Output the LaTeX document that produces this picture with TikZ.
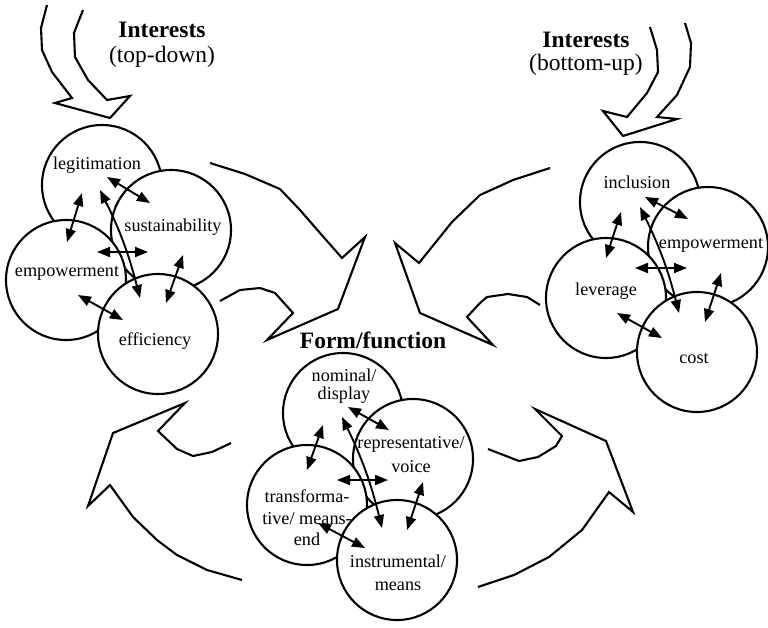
\documentclass[tikz,border=0pt]{standalone}
\usepackage{fontspec}
\setmainfont{Liberation Serif}
\usetikzlibrary{arrows.meta}
\begin{document}
\begin{tikzpicture}[x=1pt,y=-1pt,
  circ/.style={circle, draw, line width=2.1pt, fill=white, minimum size=120pt, inner sep=0pt},
  lbl/.style={font=\fontsize{18.2}{21.5}\selectfont, align=center, inner sep=0pt},
  headtxt/.style={font=\fontsize{23.5}{25}\selectfont, align=center, inner sep=0pt},
  dbl/.style={{Triangle[length=13pt,width=10pt]}-{Triangle[length=13pt,width=10pt]}, line width=1.9pt},
  bigarrow/.style={line width=2.1pt, line join=miter}
]
\useasboundingbox (0,0) rectangle (768,627);

% ---------- big outline arrows ----------
\draw[bigarrow] (47,5) -- (41,28) -- (42,50) -- (52,72) -- (72,98) -- (55,103) -- (110,118)
  -- (130,96) -- (107,100) -- (88,80) -- (75,57) -- (74,33) -- (83,10);
\draw[bigarrow] (650,27) -- (657,50) -- (658,72) -- (647,93) -- (627,117) -- (603,111) -- (623,136)
  -- (677,119) -- (657,117) -- (677,95) -- (690,67) -- (691,43) -- (685,23);
\draw[bigarrow] (210,163) -- (245,174) -- (280,189) -- (300,210) -- (320,233) -- (342,258)
  -- (365,237) -- (338,309) -- (267,340) -- (293,313) -- (275,293) -- (260,288) -- (240,290) -- (220,301);
\draw[bigarrow] (550,168) -- (513,180) -- (480,195) -- (452,222) -- (419,263) -- (395,243)
  -- (420,313) -- (493,345) -- (467,317) -- (480,303) -- (487,297) -- (508,294) -- (527,297) -- (540,305);
\draw[bigarrow] (231,443) -- (212,452) -- (193,456) -- (177,449) -- (158,431) -- (185,403)
  -- (113,433) -- (88,506) -- (110,485) -- (133,517) -- (157,540) -- (177,555) -- (207,570) -- (242,580);
\draw[bigarrow] (488,449) -- (519,461) -- (538,457) -- (556,446) -- (562,436) -- (535,409)
  -- (606,441) -- (633,512) -- (609,492) -- (582,530) -- (549,557) -- (514,575) -- (478,587);

% ---------- headings ----------
\node[headtxt] (hTD) at (162,44.5) {\textbf{Interests}\\(top-down)};
\node[headtxt, font=\fontsize{23.5}{23}\selectfont] (hBU) at (586,53.5) {\textbf{Interests}\\(bottom-up)};
\node[headtxt] (hFF) at (373,340) {\textbf{Form/function}};

% ---------- top-left cluster ----------
\node[circ] (leg) at (102,185) {};
\node[circ] (sus) at (171,230) {};
\node[circ] (emp) at (66,280) {};
\node[circ] (eff) at (158,334) {};
\node[lbl] (tLeg) at (97,165) {legitimation};
\node[lbl] (tSus) at (173,227) {sustainability};
\node[lbl] (tEmp) at (67,273) {empowerment};
\node[lbl] (tEff) at (155,341) {efficiency};

% ---------- right cluster ----------
\node[circ] (inc) at (640,202) {};
\node[circ] (emr) at (708,247) {};
\node[circ] (lev) at (606,298) {};
\node[circ] (cst) at (697,352) {};
\node[lbl] (tInc) at (637,182) {inclusion};
\node[lbl] (tEmr) at (711,245) {empowerment};
\node[lbl] (tLev) at (606,291) {leverage};
\node[lbl] (tCst) at (694,358) {cost};

% ---------- centre cluster ----------
\node[circ] (nom) at (343,413) {};
\node[circ] (rep) at (413,459) {};
\node[circ] (tra) at (307,505) {};
\node[circ] (ins) at (397,560) {};
\node[lbl, font=\fontsize{18.2}{18}\selectfont] (tNom) at (344,386) {nominal/\\display};
\node[lbl, font=\fontsize{18.2}{24}\selectfont] (tRep) at (411,455) {representative/\\voice};
\node[lbl] (tTra) at (307,518) {transforma-\\tive/ means-\\end};
\node[lbl, font=\fontsize{18.2}{23}\selectfont] (tIns) at (398,573) {instrumental/\\means};

% ---------- double-headed arrows ----------
\foreach \n/\ax/\ay/\bx/\by in {
  la/107/177/150/203, lb/82/193/67/242, ld/97/252/148/252, le/183/255/166/303, lf/78/295/123/320,
  ra/645/197/688/219, rb/621/212/606/258, rd/635/268/687/268, re/721/273/705/322, rf/617/313/662/338,
  ca/348/407/389/430, cb/323/425/307/470, cd/337/480/388/480, ce/423/482/407/530, cf/318/523/365/548}
{
  \coordinate (\n1) at (\ax,\ay);
  \coordinate (\n2) at (\bx,\by);
  \draw[dbl] (\n1) -- (\n2);
}
\foreach \n/\ax/\ay/\bx/\by in {lc/100/190/140/298, rc/640/207/679/313, cc/342/417/382/528}
{
  \coordinate (\n1) at (\ax,\ay);
  \coordinate (\n2) at (\bx,\by);
  \draw[dbl] (\n1) to[bend left=6] (\n2);
}
\end{tikzpicture}
\end{document}
